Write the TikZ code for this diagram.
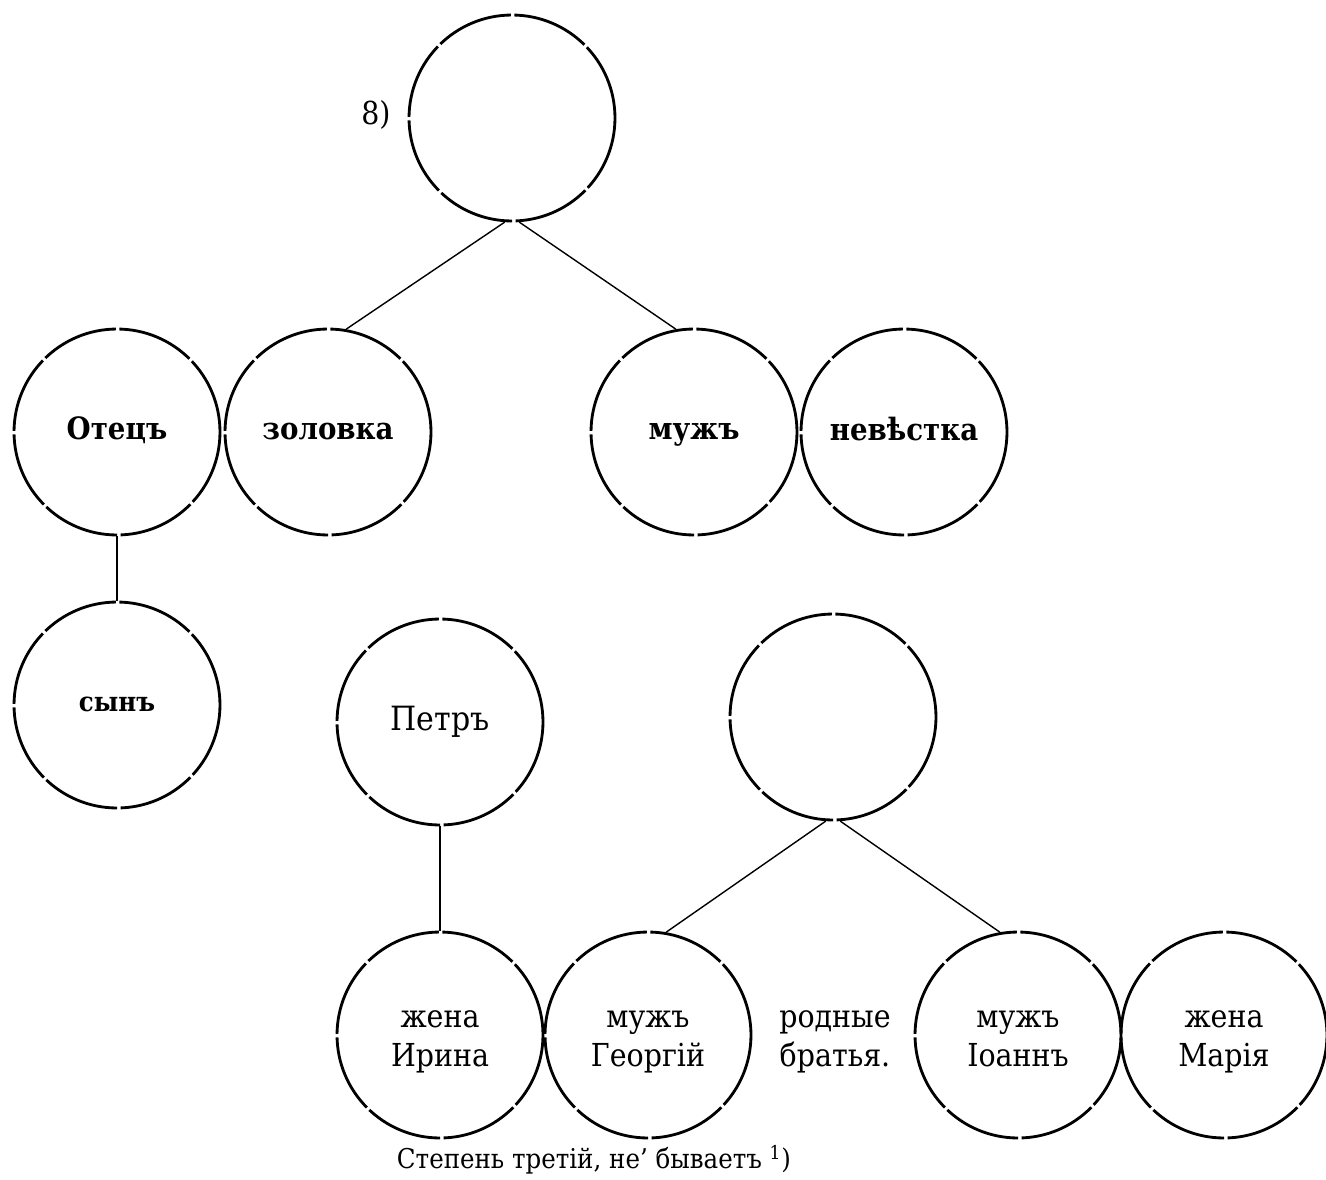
\documentclass[tikz,border=0pt]{standalone}
\usepackage{fontspec}
\setmainfont{DejaVu Serif}[FakeStretch=0.9]
\newcommand{\lbl}[1]{\vphantom{Ару}#1}
\newcommand{\lblb}[1]{\vphantom{Йру}#1}
\begin{document}
\begin{tikzpicture}[x=0.02cm,y=-0.02cm,
  circ/.style={circle,draw,line width=1.6pt,minimum size=4.12cm,inner sep=0pt,
    dash pattern=on 1.56cm off 0.07cm,align=center,font=\fontsize{18}{20}\selectfont},
  boldlbl/.style={font=\fontsize{17.5}{20}\selectfont\bfseries},
  conn/.style={line width=0.8pt},
  plain/.style={align=center,font=\fontsize{18}{20}\selectfont}]
\useasboundingbox (0,0) rectangle (1326,1180);
% row 1
\node[circ] (top) at (512,118) {};
\node[font=\fontsize{18}{20}\selectfont] (eight) at (376,115) {8)};
% row 2
\node[circ,boldlbl] (otec) at (117,432) {\lbl{Отецъ}};
\node[circ,boldlbl] (zol) at (328,432) {\lbl{золовка}};
\node[circ,boldlbl] (muzh) at (694,432) {\lbl{мужъ}};
\node[circ,boldlbl] (nev) at (904,432) {\lbl{невѣстка}};
% row 3
\node[circ,font=\fontsize{15.5}{19}\selectfont\bfseries] (syn) at (117,705) {\lbl{сынъ}};
\node[circ,font=\fontsize{19}{21}\selectfont] (petr) at (440,722) {\lbl{Петръ}};
\node[circ] (mid) at (833,717) {};
% row 4
\node[circ] (irina) at (440,1035) {\lblb{жена}\\\lblb{Ирина}};
\node[circ] (georg) at (648,1035) {\lblb{мужъ}\\\lblb{Георгій}};
\node[plain] (rod) at (835,1035) {\lblb{родные}\\\lblb{братья.}};
\node[circ] (ioann) at (1018,1035) {\lblb{мужъ}\\\lblb{Іоаннъ}};
\node[circ] (maria) at (1224,1035) {\lblb{жена}\\\lblb{Марія}};
% caption
\node[font=\fontsize{15.5}{19}\selectfont] (cap) at (594,1160) {Степень третій, не' бываетъ \textsuperscript{1})};
% connectors
\draw[conn] (top.266) -- (zol.80);
\draw[conn] (top.274) -- (muzh.100);
\draw[conn] (otec.south) -- (syn.north);
\draw[conn] (petr.south) -- (irina.north);
\draw[conn] (mid.266) -- (georg.80);
\draw[conn] (mid.274) -- (ioann.100);
\end{tikzpicture}
\end{document}
